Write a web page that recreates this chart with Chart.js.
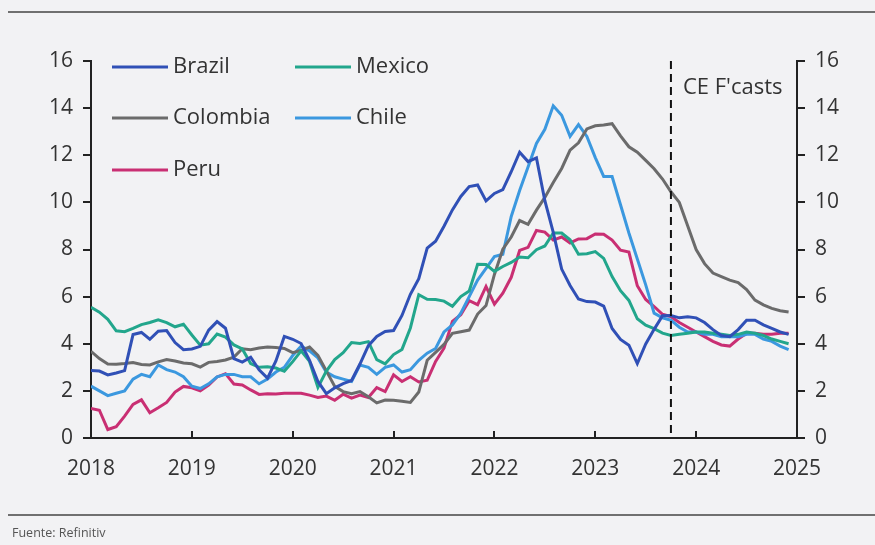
<!DOCTYPE html>
<html>
<head>
<meta charset="utf-8">
<script src="https://cdn.jsdelivr.net/npm/chart.js@4"></script>
<style>
  html, body { margin: 0; padding: 0; background: #f2f2f4; }
  #wrap { position: relative; width: 875px; height: 545px; font-family: "Open Sans", sans-serif; }
  #wrap canvas { position: absolute; left: 0; top: 0; }
  .rule { position: absolute; left: 8px; right: 0; height: 2px; background: #707070; }
  #source { position: absolute; left: 12px; top: 524px; font-size: 12.5px; color: #555; }
</style>
</head>
<body>
<div id="wrap">
  <div class="rule" style="top:11px"></div>
  <canvas id="chart" width="875" height="545"></canvas>
  <div class="rule" style="top:514px"></div>
  <div id="source">Fuente: Refinitiv</div>
</div>
<script>
// Monthly CPI inflation, % y/y, Jan 2018 - Dec 2024 (from Oct 2023 on: forecasts)
const startYear = 2018;
const forecastStart = 2023.75;
const yearTicks = [2018, 2019, 2020, 2021, 2022, 2023, 2024, 2025];

const brazil = [
  2.86, 2.84, 2.68, 2.76, 2.86, 4.39, 4.48, 4.19, 4.53, 4.56, 4.05, 3.75,
  3.78, 3.89, 4.58, 4.94, 4.66, 3.37, 3.22, 3.43, 2.89, 2.54, 3.27, 4.31,
  4.19, 4.01, 3.30, 2.40, 1.88, 2.13, 2.31, 2.44, 3.14, 3.92, 4.31, 4.52,
  4.56, 5.20, 6.10, 6.76, 8.06, 8.35, 8.99, 9.68, 10.25, 10.67, 10.74, 10.06,
  10.38, 10.54, 11.30, 12.13, 11.73, 11.89, 10.07, 8.73, 7.17, 6.47, 5.90, 5.79,
  5.77, 5.60, 4.65, 4.18, 3.94, 3.16, 3.99, 4.61, 5.19, 5.20, 5.10, 5.15,
  5.10, 4.90, 4.60, 4.35, 4.30, 4.60, 5.00, 5.00, 4.80, 4.65, 4.50, 4.40
];
const mexico = [
  5.55, 5.34, 5.04, 4.55, 4.51, 4.65, 4.81, 4.90, 5.02, 4.90, 4.72, 4.83,
  4.37, 3.94, 4.00, 4.41, 4.28, 3.95, 3.78, 3.16, 3.00, 3.02, 2.97, 2.83,
  3.24, 3.70, 3.25, 2.15, 2.84, 3.33, 3.62, 4.05, 4.01, 4.09, 3.33, 3.15,
  3.54, 3.76, 4.67, 6.08, 5.89, 5.88, 5.81, 5.59, 6.00, 6.24, 7.37, 7.36,
  7.07, 7.28, 7.45, 7.68, 7.65, 7.99, 8.15, 8.70, 8.70, 8.41, 7.80, 7.82,
  7.91, 7.62, 6.85, 6.25, 5.84, 5.06, 4.79, 4.64, 4.45, 4.35, 4.40, 4.45,
  4.50, 4.50, 4.45, 4.40, 4.35, 4.40, 4.50, 4.45, 4.35, 4.20, 4.10, 4.00
];
const colombia = [
  3.68, 3.37, 3.14, 3.13, 3.16, 3.20, 3.12, 3.10, 3.23, 3.33, 3.27, 3.18,
  3.15, 3.01, 3.21, 3.25, 3.31, 3.43, 3.79, 3.75, 3.82, 3.86, 3.84, 3.80,
  3.62, 3.72, 3.86, 3.51, 2.85, 2.19, 1.97, 1.88, 1.97, 1.75, 1.49, 1.61,
  1.60, 1.56, 1.51, 1.95, 3.30, 3.63, 3.97, 4.44, 4.51, 4.58, 5.26, 5.62,
  6.94, 8.01, 8.53, 9.23, 9.07, 9.67, 10.21, 10.84, 11.44, 12.22, 12.53, 13.12,
  13.25, 13.28, 13.34, 12.82, 12.36, 12.13, 11.78, 11.43, 10.99, 10.45, 10.00, 9.00,
  8.00, 7.40, 7.00, 6.85, 6.70, 6.60, 6.30, 5.85, 5.65, 5.50, 5.40, 5.35
];
const chile = [
  2.2, 2.0, 1.8, 1.9, 2.0, 2.5, 2.7, 2.6, 3.1, 2.9, 2.8, 2.6,
  2.2, 2.1, 2.3, 2.6, 2.7, 2.7, 2.6, 2.6, 2.3, 2.5, 2.8, 3.0,
  3.5, 3.9, 3.7, 3.4, 2.8, 2.6, 2.5, 2.4, 3.1, 3.0, 2.7, 3.0,
  3.1, 2.8, 2.9, 3.3, 3.6, 3.8, 4.5, 4.8, 5.3, 6.0, 6.7, 7.2,
  7.7, 7.8, 9.4, 10.5, 11.5, 12.5, 13.1, 14.1, 13.7, 12.8, 13.3, 12.8,
  11.9, 11.1, 11.1, 9.9, 8.7, 7.6, 6.5, 5.3, 5.1, 5.0, 4.7, 4.5,
  4.5, 4.4, 4.4, 4.3, 4.3, 4.3, 4.4, 4.4, 4.2, 4.1, 3.9, 3.75
];
const peru = [
  1.25, 1.18, 0.36, 0.48, 0.93, 1.43, 1.62, 1.07, 1.28, 1.51, 1.95, 2.19,
  2.13, 2.00, 2.25, 2.59, 2.73, 2.29, 2.25, 2.04, 1.85, 1.88, 1.87, 1.90,
  1.90, 1.90, 1.82, 1.72, 1.78, 1.60, 1.86, 1.69, 1.82, 1.72, 2.14, 1.97,
  2.68, 2.40, 2.60, 2.38, 2.45, 3.25, 3.81, 4.95, 5.23, 5.83, 5.66, 6.43,
  5.68, 6.15, 6.82, 7.96, 8.09, 8.81, 8.74, 8.40, 8.53, 8.28, 8.45, 8.46,
  8.66, 8.65, 8.40, 7.97, 7.89, 6.46, 5.88, 5.58, 5.25, 5.15, 4.90, 4.70,
  4.50, 4.30, 4.10, 3.95, 3.90, 4.20, 4.45, 4.45, 4.40, 4.40, 4.45, 4.45
];

const series = [
  { label: "Brazil",   values: brazil,   color: "#3050b6" },
  { label: "Mexico",   values: mexico,   color: "#22a68c" },
  { label: "Colombia", values: colombia, color: "#6b6b6b" },
  { label: "Chile",    values: chile,    color: "#3b98df" },
  { label: "Peru",     values: peru,     color: "#c92f73" }
];

const FONT = "Open Sans";
const INK = "#222";

// legend slots: two columns, three rows
const legendSlots = [
  { x: 112, y: 67 }, { x: 295, y: 67 },
  { x: 112, y: 118 }, { x: 295, y: 118 },
  { x: 112, y: 170 }
];

const decorations = {
  id: "decorations",
  afterDraw(chart) {
    const { ctx, chartArea, scales } = chart;
    ctx.save();

    // x-axis ticks point up into the plot
    ctx.strokeStyle = INK;
    ctx.lineWidth = 2;
    scales.x.ticks.forEach(t => {
      const px = Math.round(scales.x.getPixelForValue(t.value));
      ctx.beginPath();
      ctx.moveTo(px, chartArea.bottom);
      ctx.lineTo(px, chartArea.bottom - 7);
      ctx.stroke();
    });

    // forecast divider
    const fx = scales.x.getPixelForValue(forecastStart);
    ctx.setLineDash([8, 5]);
    ctx.strokeStyle = "#111";
    ctx.beginPath();
    ctx.moveTo(fx, chartArea.top);
    ctx.lineTo(fx, chartArea.bottom);
    ctx.stroke();
    ctx.setLineDash([]);

    ctx.fillStyle = "#333";
    ctx.font = "22px '" + FONT + "'";
    ctx.textBaseline = "middle";
    ctx.textAlign = "left";
    ctx.fillText("CE F'casts", fx + 12, 88);

    // legend
    ctx.font = "22px '" + FONT + "'";
    chart.data.datasets.forEach((ds, i) => {
      const s = legendSlots[i];
      ctx.strokeStyle = ds.borderColor;
      ctx.lineWidth = 3;
      ctx.beginPath();
      ctx.moveTo(s.x, s.y);
      ctx.lineTo(s.x + 56, s.y);
      ctx.stroke();
      ctx.fillStyle = "#333";
      ctx.fillText(ds.label, s.x + 61, s.y);
    });
    ctx.restore();
  }
};

const yAxis = (position, width) => ({
  type: "linear",
  position,
  min: 0,
  max: 16,
  ticks: { stepSize: 2, color: "#333", font: { family: FONT, size: 21 }, padding: 10 },
  grid: { drawOnChartArea: false, drawTicks: true, tickLength: 8, color: INK, lineWidth: 2 },
  border: { display: true, color: INK, width: 2 },
  afterFit(scale) { scale.width = width; }
});

new Chart(document.getElementById("chart"), {
  type: "line",
  data: {
    datasets: series.map(s => ({
      label: s.label,
      data: s.values.map((v, i) => ({ x: startYear + i / 12, y: v })),
      borderColor: s.color,
      backgroundColor: s.color,
      borderWidth: 3,
      pointRadius: 0,
      tension: 0,
      fill: false
    }))
  },
  options: {
    responsive: false,
    animation: false,
    layout: { padding: { top: 61, left: 0, right: 0, bottom: 0 } },
    scales: {
      x: {
        type: "linear",
        min: yearTicks[0],
        max: yearTicks[yearTicks.length - 1],
        afterBuildTicks(scale) { scale.ticks = yearTicks.map(v => ({ value: v })); },
        ticks: { color: "#333", font: { family: FONT, size: 21 }, padding: 18, callback: v => String(v) },
        grid: { drawOnChartArea: false, drawTicks: false },
        border: { display: true, color: INK, width: 2 },
        afterFit(scale) { scale.height = 107; }
      },
      y: yAxis("left", 91),
      y2: yAxis("right", 78)
    },
    plugins: {
      legend: { display: false },
      tooltip: { enabled: false }
    }
  },
  plugins: [decorations]
});
</script>
</body>
</html>
